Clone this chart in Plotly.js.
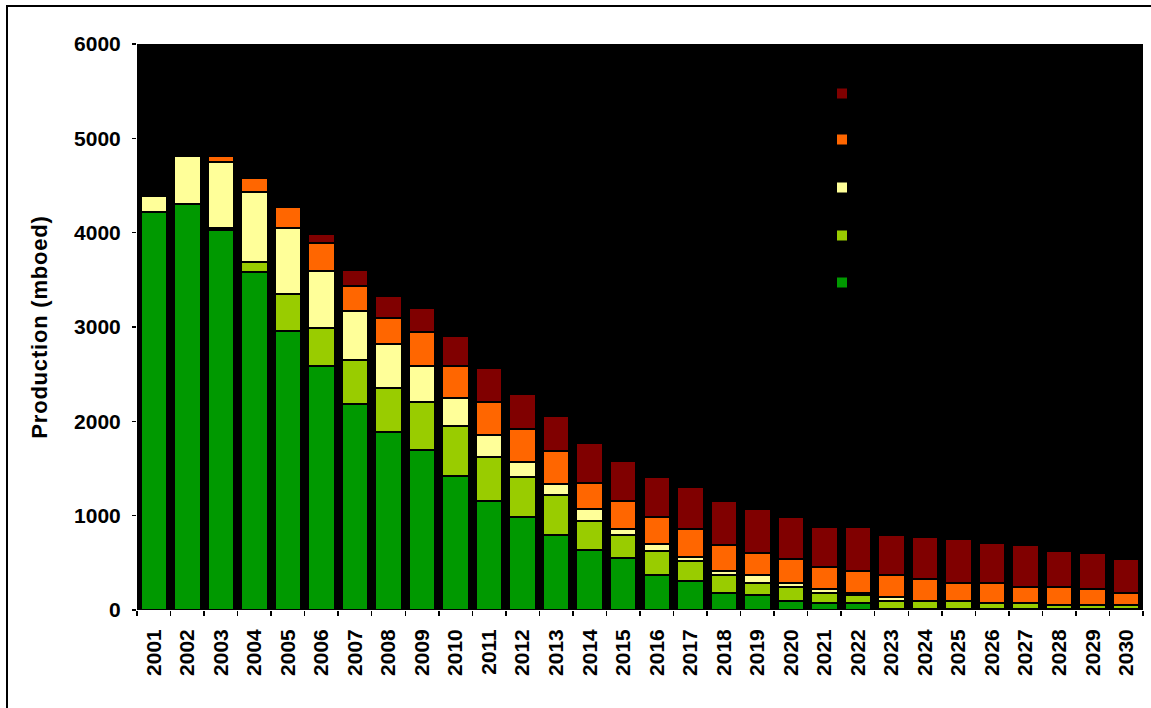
<!DOCTYPE html>
<html>
<head>
<meta charset="utf-8">
<script src="https://cdn.plot.ly/plotly-3.0.1.min.js"></script>
<style>
html,body{margin:0;padding:0;background:#fff;}
#chart{width:1151px;height:708px;}
.ytitle{letter-spacing:0.8px;}
</style>
</head>
<body>
<div id="chart"></div>
<script>
const years = ['2001','2002','2003','2004','2005','2006','2007','2008','2009','2010',
  '2011','2012','2013','2014','2015','2016','2017','2018','2019','2020',
  '2021','2022','2023','2024','2025','2026','2027','2028','2029','2030'];

const seriesGreen = [4220,4305,4025,3580,2960,2585,2180,1883,1692,1417,
  1158,989,798,632,547,374,310,183,162,99,
  77,77,14,14,14,14,14,14,14,14];
const seriesLightGreen = [0,0,25,105,386,400,467,467,509,530,
  467,424,424,314,251,254,212,191,127,148,
  106,85,85,85,85,63,63,42,42,42];
const seriesYellow = [169,509,699,742,700,611,526,466,382,297,
  233,152,110,127,63,68,42,42,85,42,
  43,21,42,0,0,0,0,0,0,0];
const seriesOrange = [0,0,63,149,229,296,261,276,360,339,
  343,357,357,276,297,293,297,276,233,255,
  233,234,233,233,190,212,170,191,170,127];
const seriesRed = [0,0,0,0,0,89,167,233,255,318,
  361,364,364,424,424,424,446,466,466,445,
  424,466,424,445,467,424,445,382,381,361];

const yTicks = [0,1000,2000,3000,4000,5000,6000];
const yTitle = 'Production (mboed)';

const colors = ['#009900','#99CC00','#FFFF99','#FF6600','#800000'];
const seriesValues = [seriesGreen, seriesLightGreen, seriesYellow, seriesOrange, seriesRed];
const legendIds = ['legend5','legend4','legend3','legend2','legend'];
// legend swatch centre heights (px from top), green..red
const legendPx = [282.5, 235.5, 187.5, 139.5, 93.5];

const plotL = 137, plotR = 1143, plotT = 44, plotB = 610;
const pw = plotR - plotL, ph = plotB - plotT;

const traces = seriesValues.map((vals, i) => ({
  type: 'bar',
  x: years,
  y: vals,
  name: '',
  legend: legendIds[i],
  showlegend: true,
  marker: {color: colors[i], line: {color: '#000000', width: 2}},
  hovertemplate: '%{x}: %{y}<extra></extra>'
}));

const layout = {
  width: 1151, height: 708,
  margin: {l: plotL, r: 1151 - plotR, t: plotT, b: 708 - plotB},
  paper_bgcolor: '#ffffff',
  plot_bgcolor: '#000000',
  barmode: 'stack',
  bargap: 0.21,
  showlegend: true,
  font: {family: 'Liberation Sans, Arial, sans-serif', color: '#000000', weight: 'bold'},
  xaxis: {
    type: 'category',
    tickangle: -90,
    ticks: 'outside', tickson: 'boundaries', ticklen: 5, tickcolor: '#000', tickwidth: 1.5,
    ticklabelstandoff: 14,
    showgrid: false, zeroline: false, showline: false,
    tickfont: {size: 21, weight: 'bold', family: 'Liberation Sans, Arial, sans-serif'}
  },
  yaxis: {
    range: [0, 6000],
    tickvals: yTicks,
    ticktext: yTicks.map(String),
    ticks: 'outside', ticklen: 4, tickcolor: '#000', tickwidth: 1.5,
    ticklabelstandoff: 7,
    showgrid: false, zeroline: false, showline: false,
    tickfont: {size: 21, weight: 'bold', family: 'Liberation Sans, Arial, sans-serif'},
    title: {text: yTitle, font: {size: 22, weight: 'bold', family: 'Liberation Sans, Arial, sans-serif'}, standoff: 20}
  },
  shapes: [{
    type: 'rect', xref: 'paper', yref: 'paper',
    x0: (7 - plotL) / pw, x1: 2,
    y0: -1, y1: (plotB - 6) / ph,
    line: {color: '#000000', width: 2}, fillcolor: 'rgba(0,0,0,0)', layer: 'above'
  }],
  hovermode: 'closest'
};

legendIds.forEach((id, i) => {
  layout[id] = {
    x: (822 - plotL) / pw,
    y: (plotB - legendPx[i]) / ph,
    xanchor: 'left', yanchor: 'middle',
    bgcolor: 'rgba(0,0,0,0)', borderwidth: 0,
    font: {size: 10, color: '#000000'},
    visible: true
  };
});

Plotly.newPlot('chart', traces, layout, {displayModeBar: false, staticPlot: true});
</script>
</body>
</html>
